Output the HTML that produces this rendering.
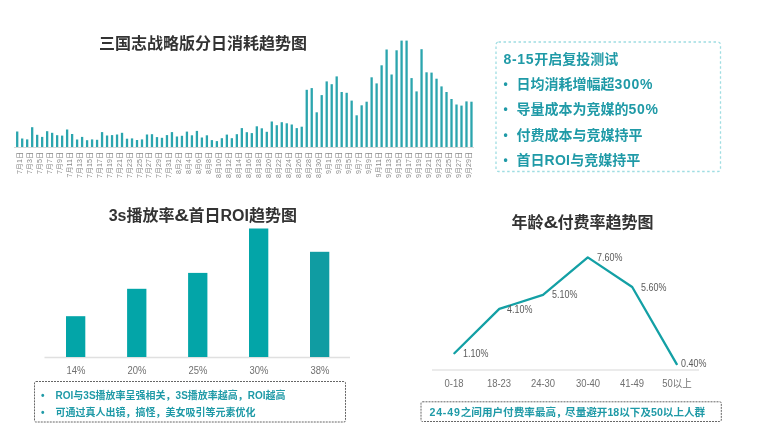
<!DOCTYPE html>
<html lang="zh"><head><meta charset="utf-8"><title>三国志战略版</title>
<style>
html,body{margin:0;padding:0;background:#fff;}
body{width:758px;height:432px;position:relative;overflow:hidden;font-family:"Liberation Sans","Noto Sans CJK SC",sans-serif;}
.title{position:absolute;white-space:nowrap;font-weight:bold;font-size:16px;line-height:20px;color:#333;transform:translateX(-50%);}
.dl{position:absolute;top:152.2px;white-space:nowrap;font-size:7.1px;line-height:8px;color:#8a8a8a;transform-origin:0 0;transform:rotate(-90deg) translate(-100%,-50%);}
svg{position:absolute;left:0;top:0;}
.t1{position:absolute;white-space:nowrap;font-weight:bold;font-size:14px;line-height:20px;color:#1f9aa7;}
.t2{position:absolute;white-space:nowrap;font-weight:bold;font-size:10px;line-height:14px;color:#1f9aa7;}
.t3{position:absolute;white-space:nowrap;font-weight:bold;font-size:10.6px;line-height:14px;color:#1f9aa7;}
.xl{position:absolute;white-space:nowrap;font-size:10.2px;line-height:12px;color:#707070;transform:translateX(-50%) scaleX(0.93);}
.vl{position:absolute;white-space:nowrap;font-size:10.2px;line-height:12px;color:#5a5a5a;transform-origin:0 50%;transform:scaleX(0.88);}
.ls{letter-spacing:0.7px;}
.ls2{letter-spacing:0.85px;}.ls3{letter-spacing:0px;}.cm{margin-right:-1.6px;}
.amp{display:inline-block;transform:scaleX(1.28);margin:0 1.3px 0 1.1px;}
</style></head><body>
<svg width="758" height="432" viewBox="0 0 758 432">
<line x1="14" y1="147.5" x2="474" y2="147.5" stroke="#d9d9d9" stroke-width="1"/>
<g fill="#2ba5ae"><rect x="16.05" y="131.5" width="2.3" height="15.5"/><rect x="21.04" y="138.5" width="2.3" height="8.5"/><rect x="26.03" y="139.4" width="2.3" height="7.6"/><rect x="31.03" y="127.2" width="2.3" height="19.8"/><rect x="36.02" y="134.8" width="2.3" height="12.2"/><rect x="41.01" y="136.9" width="2.3" height="10.1"/><rect x="46.00" y="131.2" width="2.3" height="15.8"/><rect x="50.99" y="132.8" width="2.3" height="14.2"/><rect x="55.99" y="135.2" width="2.3" height="11.8"/><rect x="60.98" y="135.6" width="2.3" height="11.4"/><rect x="65.97" y="129.5" width="2.3" height="17.5"/><rect x="70.96" y="134.0" width="2.3" height="13.0"/><rect x="75.95" y="139.5" width="2.3" height="7.5"/><rect x="80.95" y="136.9" width="2.3" height="10.1"/><rect x="85.94" y="140.2" width="2.3" height="6.8"/><rect x="90.93" y="139.4" width="2.3" height="7.6"/><rect x="95.92" y="139.8" width="2.3" height="7.2"/><rect x="100.91" y="132.1" width="2.3" height="14.9"/><rect x="105.91" y="135.5" width="2.3" height="11.5"/><rect x="110.90" y="135.1" width="2.3" height="11.9"/><rect x="115.89" y="134.5" width="2.3" height="12.5"/><rect x="120.88" y="132.8" width="2.3" height="14.2"/><rect x="125.87" y="138.7" width="2.3" height="8.3"/><rect x="130.87" y="138.4" width="2.3" height="8.6"/><rect x="135.86" y="140.0" width="2.3" height="7.0"/><rect x="140.85" y="139.4" width="2.3" height="7.6"/><rect x="145.84" y="134.5" width="2.3" height="12.5"/><rect x="150.83" y="134.2" width="2.3" height="12.8"/><rect x="155.83" y="137.1" width="2.3" height="9.9"/><rect x="160.82" y="137.8" width="2.3" height="9.2"/><rect x="165.81" y="135.1" width="2.3" height="11.9"/><rect x="170.80" y="132.1" width="2.3" height="14.9"/><rect x="175.79" y="136.5" width="2.3" height="10.5"/><rect x="180.79" y="135.8" width="2.3" height="11.2"/><rect x="185.78" y="131.6" width="2.3" height="15.4"/><rect x="190.77" y="135.3" width="2.3" height="11.7"/><rect x="195.76" y="130.9" width="2.3" height="16.1"/><rect x="200.75" y="137.5" width="2.3" height="9.5"/><rect x="205.75" y="135.3" width="2.3" height="11.7"/><rect x="210.74" y="140.1" width="2.3" height="6.9"/><rect x="215.73" y="141.1" width="2.3" height="5.9"/><rect x="220.72" y="138.2" width="2.3" height="8.8"/><rect x="225.71" y="134.6" width="2.3" height="12.4"/><rect x="230.71" y="138.2" width="2.3" height="8.8"/><rect x="235.70" y="134.2" width="2.3" height="12.8"/><rect x="240.69" y="128.1" width="2.3" height="18.9"/><rect x="245.68" y="132.2" width="2.3" height="14.8"/><rect x="250.67" y="133.1" width="2.3" height="13.9"/><rect x="255.67" y="126.3" width="2.3" height="20.7"/><rect x="260.66" y="128.3" width="2.3" height="18.7"/><rect x="265.65" y="131.8" width="2.3" height="15.2"/><rect x="270.64" y="121.5" width="2.3" height="25.5"/><rect x="275.63" y="125.2" width="2.3" height="21.8"/><rect x="280.63" y="122.2" width="2.3" height="24.8"/><rect x="285.62" y="123.3" width="2.3" height="23.7"/><rect x="290.61" y="124.5" width="2.3" height="22.5"/><rect x="295.60" y="128.1" width="2.3" height="18.9"/><rect x="300.59" y="126.7" width="2.3" height="20.3"/><rect x="305.59" y="89.8" width="2.3" height="57.2"/><rect x="310.58" y="88.1" width="2.3" height="58.9"/><rect x="315.57" y="112.3" width="2.3" height="34.7"/><rect x="320.56" y="95.1" width="2.3" height="51.9"/><rect x="325.55" y="81.4" width="2.3" height="65.6"/><rect x="330.55" y="84.2" width="2.3" height="62.8"/><rect x="335.54" y="76.4" width="2.3" height="70.6"/><rect x="340.53" y="92.0" width="2.3" height="55.0"/><rect x="345.52" y="92.8" width="2.3" height="54.2"/><rect x="350.51" y="100.6" width="2.3" height="46.4"/><rect x="355.51" y="115.3" width="2.3" height="31.7"/><rect x="360.50" y="105.3" width="2.3" height="41.7"/><rect x="365.49" y="101.7" width="2.3" height="45.3"/><rect x="370.48" y="77.3" width="2.3" height="69.7"/><rect x="375.47" y="83.4" width="2.3" height="63.6"/><rect x="380.47" y="65.3" width="2.3" height="81.7"/><rect x="385.46" y="49.5" width="2.3" height="97.5"/><rect x="390.45" y="74.5" width="2.3" height="72.5"/><rect x="395.44" y="50.3" width="2.3" height="96.7"/><rect x="400.43" y="40.6" width="2.3" height="106.4"/><rect x="405.43" y="40.6" width="2.3" height="106.4"/><rect x="410.42" y="78.1" width="2.3" height="68.9"/><rect x="415.41" y="91.4" width="2.3" height="55.6"/><rect x="420.40" y="49.2" width="2.3" height="97.8"/><rect x="425.39" y="72.3" width="2.3" height="74.7"/><rect x="430.39" y="72.6" width="2.3" height="74.4"/><rect x="435.38" y="78.7" width="2.3" height="68.3"/><rect x="440.37" y="86.4" width="2.3" height="60.6"/><rect x="445.36" y="92.0" width="2.3" height="55.0"/><rect x="450.35" y="99.0" width="2.3" height="48.0"/><rect x="455.35" y="104.5" width="2.3" height="42.5"/><rect x="460.34" y="105.6" width="2.3" height="41.4"/><rect x="465.33" y="101.4" width="2.3" height="45.6"/><rect x="470.32" y="101.7" width="2.3" height="45.3"/></g>
<line x1="44.5" y1="357.5" x2="350" y2="357.5" stroke="#e0e0e0" stroke-width="1.4"/>
<g fill="#03a5a8">
<rect x="66" y="316.2" width="19.3" height="40.8"/>
<rect x="127.1" y="288.8" width="19.3" height="68.2"/>
<rect x="188.1" y="272.9" width="19.3" height="84.1"/>
<rect x="249" y="228.5" width="19.3" height="128.5"/>
<rect x="310" y="251.8" width="19.3" height="105.2" fill="#109ca2"/>
</g>
<line x1="432" y1="369.9" x2="699" y2="369.9" stroke="#e4e4e4" stroke-width="1.5"/>
<polyline points="454.4,353.3 499.3,308.9 543,294.8 587.8,257.4 632.2,287 676.7,364.1" fill="none" stroke="#13a0a5" stroke-width="2.3" stroke-linejoin="round" stroke-linecap="round"/>
<rect x="496" y="42" width="224.5" height="129.5" rx="2.5" fill="none" stroke="#9fdde2" stroke-width="1.3" stroke-dasharray="2.5 2.5"/>
<rect x="34.5" y="381.5" width="311" height="40.5" rx="1.5" fill="none" stroke="#666" stroke-width="1" stroke-dasharray="2 1"/>
<rect x="421" y="401.8" width="300.3" height="19.7" rx="1.5" fill="none" stroke="#666" stroke-width="1" stroke-dasharray="2 1"/>
</svg>
<div class="title" style="left:203px;top:34px">三国志战略版分日消耗趋势图</div>
<div class="dl" style="left:19.70px">7月1日</div><div class="dl" style="left:29.68px">7月3日</div><div class="dl" style="left:39.67px">7月5日</div><div class="dl" style="left:49.65px">7月7日</div><div class="dl" style="left:59.64px">7月9日</div><div class="dl" style="left:69.62px">7月11日</div><div class="dl" style="left:79.60px">7月13日</div><div class="dl" style="left:89.59px">7月15日</div><div class="dl" style="left:99.57px">7月17日</div><div class="dl" style="left:109.56px">7月19日</div><div class="dl" style="left:119.54px">7月21日</div><div class="dl" style="left:129.52px">7月23日</div><div class="dl" style="left:139.51px">7月25日</div><div class="dl" style="left:149.49px">7月27日</div><div class="dl" style="left:159.48px">7月29日</div><div class="dl" style="left:169.46px">7月31日</div><div class="dl" style="left:179.44px">8月2日</div><div class="dl" style="left:189.43px">8月4日</div><div class="dl" style="left:199.41px">8月6日</div><div class="dl" style="left:209.40px">8月8日</div><div class="dl" style="left:219.38px">8月10日</div><div class="dl" style="left:229.36px">8月12日</div><div class="dl" style="left:239.35px">8月14日</div><div class="dl" style="left:249.33px">8月16日</div><div class="dl" style="left:259.32px">8月18日</div><div class="dl" style="left:269.30px">8月20日</div><div class="dl" style="left:279.28px">8月22日</div><div class="dl" style="left:289.27px">8月24日</div><div class="dl" style="left:299.25px">8月26日</div><div class="dl" style="left:309.24px">8月28日</div><div class="dl" style="left:319.22px">8月30日</div><div class="dl" style="left:329.20px">9月1日</div><div class="dl" style="left:339.19px">9月3日</div><div class="dl" style="left:349.17px">9月5日</div><div class="dl" style="left:359.16px">9月7日</div><div class="dl" style="left:369.14px">9月9日</div><div class="dl" style="left:379.12px">9月11日</div><div class="dl" style="left:389.11px">9月13日</div><div class="dl" style="left:399.09px">9月15日</div><div class="dl" style="left:409.08px">9月17日</div><div class="dl" style="left:419.06px">9月19日</div><div class="dl" style="left:429.04px">9月21日</div><div class="dl" style="left:439.03px">9月23日</div><div class="dl" style="left:449.01px">9月25日</div><div class="dl" style="left:459.00px">9月27日</div><div class="dl" style="left:468.98px">9月29日</div>
<div class="t1" style="left:503.5px;top:49px"><span class="ls">8-15</span>开启复投测试</div>
<div class="t1" style="left:503.6px;top:73.8px;font-size:12px">•</div><div class="t1" style="left:516.5px;top:73.8px">日均消耗增幅超<span class="ls">300%</span></div>
<div class="t1" style="left:503.6px;top:98.9px;font-size:12px">•</div><div class="t1" style="left:516.5px;top:98.9px">导量成本为竞媒的<span class="ls">50%</span></div>
<div class="t1" style="left:503.6px;top:125.1px;font-size:12px">•</div><div class="t1" style="left:516.5px;top:125.1px">付费成本与竞媒持平</div>
<div class="t1" style="left:503.6px;top:149.7px;font-size:12px">•</div><div class="t1" style="left:516.5px;top:149.7px">首日<span style="letter-spacing:0.3px">ROI</span>与竞媒持平</div>

<div class="title" style="left:202.8px;top:205.7px">3s播放率<span class="amp">&amp;</span>首日ROI趋势图</div>
<div class="xl" style="left:75.9px;top:364.6px">14%</div>
<div class="xl" style="left:137px;top:364.6px">20%</div>
<div class="xl" style="left:198px;top:364.6px">25%</div>
<div class="xl" style="left:258.8px;top:364.6px">30%</div>
<div class="xl" style="left:319.9px;top:364.6px">38%</div>
<div class="t2" style="left:41px;top:389.2px">•</div><div class="t2" style="left:55.6px;top:389.2px">ROI与3S播放率呈强相关，3S播放率越高，ROI越高</div>
<div class="t2" style="left:41px;top:406.3px">•</div><div class="t2" style="left:55.6px;top:406.3px">可通过真人出镜，搞怪，美女吸引等元素优化</div>

<div class="title" style="left:582.6px;top:212.7px">年龄<span class="amp">&amp;</span>付费率趋势图</div>
<div class="vl" style="left:463.3px;top:347.9px">1.10%</div>
<div class="vl" style="left:507px;top:303.9px">4.10%</div>
<div class="vl" style="left:552.2px;top:289.4px">5.10%</div>
<div class="vl" style="left:596.7px;top:252.0px">7.60%</div>
<div class="vl" style="left:641.1px;top:282.0px">5.60%</div>
<div class="vl" style="left:681.1px;top:358.2px">0.40%</div>
<div class="xl" style="left:454.4px;top:377.6px">0-18</div>
<div class="xl" style="left:499.3px;top:377.6px">18-23</div>
<div class="xl" style="left:543px;top:377.6px">24-30</div>
<div class="xl" style="left:587.8px;top:377.6px">30-40</div>
<div class="xl" style="left:632.2px;top:377.6px">41-49</div>
<div class="xl" style="left:676.7px;top:377.6px">50以上</div>
<div class="t3" style="left:429.4px;top:405px"><span class="ls2">24-49</span>之间用户付费率最高<span class="cm">，</span>尽量避开<span class="ls3">18</span>以下及<span class="ls3">50</span>以上人群</div>
</body></html>
